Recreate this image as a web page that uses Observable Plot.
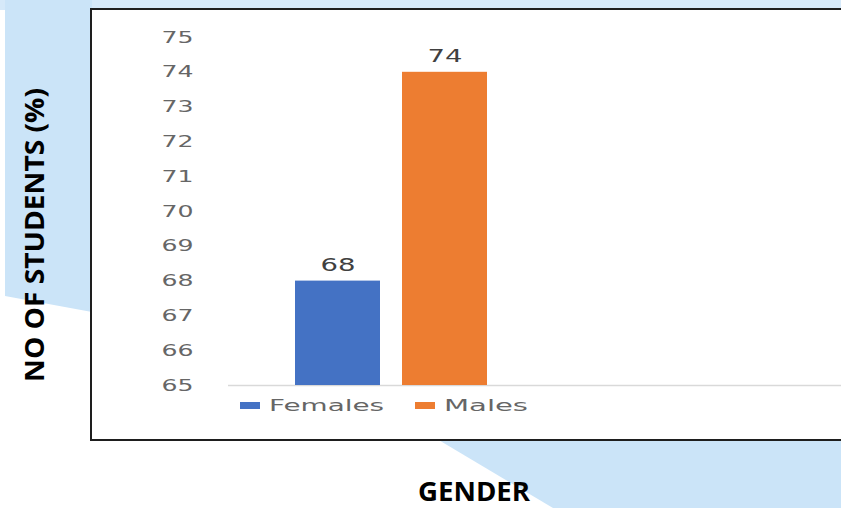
<!DOCTYPE html>
<html>
<head>
<meta charset="utf-8">
<script src="https://cdn.jsdelivr.net/npm/d3@7"></script>
<script src="https://cdn.jsdelivr.net/npm/@observablehq/plot@0.6"></script>
<style>
  html, body { margin: 0; padding: 0; background: #fff; }
  #wrap { position: relative; width: 841px; height: 508px; overflow: hidden; background: #fff; }
  .bg { position: absolute; background: #cbe4f8; }
  #bgTop { left: 0; top: 0; width: 841px; height: 10px; background: #d6e9f9; }
  #bgLeft { left: 0; top: 0; width: 841px; height: 508px; clip-path: polygon(5px 0, 92px 0, 92px 312px, 5px 296px); }
  #bgBR { left: 0; top: 0; width: 841px; height: 508px; clip-path: polygon(437px 439px, 841px 439px, 841px 508px, 553px 508px); }
  #box { position: absolute; left: 90px; top: 8px; width: 800px; height: 429px; border: 2px solid #1e1e1e; background: #fff; }
  #chart { position: absolute; left: 0; top: 0; }
  #chart svg { background: transparent; overflow: visible; }
</style>
</head>
<body>
<div id="wrap">
  <div class="bg" id="bgTop"></div>
  <div class="bg" id="bgLeft"></div>
  <div class="bg" id="bgBR"></div>
  <div id="box"></div>
  <div id="chart"></div>
</div>
<script>
const categories = ["Females", "Males"];
const values = [68, 74];
const colors = ["#4472C4", "#ED7D31"];
const yTicks = [65, 66, 67, 68, 69, 70, 71, 72, 73, 74, 75];
const yTitle = "NO OF STUDENTS (%)";
const xTitle = "GENDER";

const data = categories.map((c, i) => ({gender: c, value: values[i]}));
const yMin = yTicks[0];

const plot = Plot.plot({
  width: 841,
  height: 508,
  marginLeft: 228,
  marginRight: 0,
  marginTop: 37,
  marginBottom: 123,
  style: {background: "transparent", fontFamily: "DejaVu Sans", fontSize: "16px", color: "#666666"},
  x: {domain: categories, range: [294, 487], paddingInner: 0.21, paddingOuter: 0, axis: null},
  y: {domain: [yTicks[0], yTicks[yTicks.length - 1]]},
  color: {domain: categories, range: colors},
  marks: [
    Plot.ruleY([yMin], {stroke: "#d9d9d9", strokeWidth: 1.5}),
    Plot.barY(data, {x: "gender", y1: () => yMin, y2: "value", fill: "gender"}),
    Plot.text(data, {x: "gender", y: "value", text: d => String(d.value), lineAnchor: "bottom", dy: -10, fill: "#404040", fontSize: 17, fontFamily: "DejaVu Sans"}),
    Plot.axisY({ticks: yTicks, tickSize: 0, tickPadding: 35, label: null, tickFormat: d => String(d), fontSize: 16})
  ]
});
document.getElementById("chart").appendChild(plot);

const svg = d3.select(plot);
// stretch tick labels like the reference
svg.selectAll('g[aria-label="y-axis tick label"] text')
  .attr("textLength", 32).attr("lengthAdjust", "spacingAndGlyphs");
svg.selectAll('g[aria-label="text"] text')
  .attr("textLength", 35).attr("lengthAdjust", "spacingAndGlyphs");

// legend
const legendX = [240, 415];
const legendW = [115, 84];
const lg = svg.append("g").attr("aria-label", "legend").attr("text-anchor", "start");
categories.forEach((c, i) => {
  lg.append("rect").attr("x", legendX[i]).attr("y", 402).attr("width", 20).attr("height", 7).attr("fill", colors[i]);
  lg.append("text").attr("x", legendX[i] + 29).attr("y", 411)
    .attr("text-anchor", "start")
    .attr("font-family", "DejaVu Sans").attr("font-size", 16).attr("fill", "#666666")
    .attr("textLength", legendW[i]).attr("lengthAdjust", "spacingAndGlyphs").text(c);
});

// axis titles
svg.append("text")
  .attr("transform", "translate(44,235) rotate(-90)")
  .attr("text-anchor", "middle")
  .attr("font-family", "Open Sans").attr("font-weight", "bold").attr("font-size", 27)
  .attr("fill", "#000")
  .attr("textLength", 294).attr("lengthAdjust", "spacingAndGlyphs")
  .text(yTitle);
svg.append("text")
  .attr("x", 474).attr("y", 501)
  .attr("text-anchor", "middle")
  .attr("font-family", "Open Sans").attr("font-weight", "bold").attr("font-size", 27)
  .attr("fill", "#000")
  .attr("textLength", 112).attr("lengthAdjust", "spacingAndGlyphs")
  .text(xTitle);
</script>
</body>
</html>
